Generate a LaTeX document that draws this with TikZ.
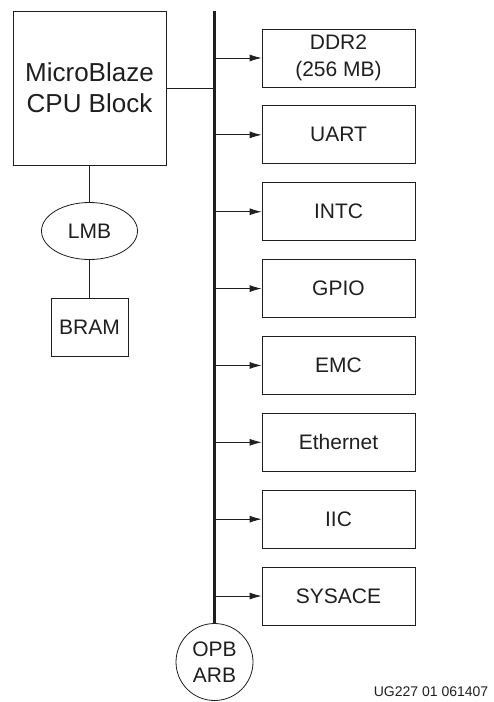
\documentclass[tikz,border=0pt]{standalone}
\usepackage{fontspec}
\setmainfont{Liberation Sans}
\usetikzlibrary{shapes.geometric,arrows.meta}

\begin{document}
\begin{tikzpicture}[x=1pt, y=-1pt, line width=0.8pt, color=black!88,
      every node/.style={font=\fontsize{21}{27}\selectfont},
      block/.style={draw, rectangle, inner sep=0pt, align=center},
      slave/.style={block, minimum width=153pt, minimum height=58pt},
      bus/.style={line width=3.5pt},
      link/.style={-{Latex[length=12pt,width=7pt]}}]

      \useasboundingbox (0,0) rectangle (494,702);

      \node[block, minimum width=153pt, minimum height=154pt, font=\fontsize{26}{31}\selectfont] (cpu) at (89.5,88) {MicroBlaze\\CPU Block};
      \node[draw, ellipse, minimum width=96pt, minimum height=57pt, inner sep=0pt] (lmb) at (89.5,231) {LMB};
      \node[block, minimum width=77pt, minimum height=58pt] (bram) at (89.5,327) {BRAM};
      \node[draw, circle, minimum size=77pt, inner sep=0pt, align=center, font=\fontsize{21}{26}\selectfont] (opb) at (214.5,662) {OPB\\ARB};
      \coordinate (bustop) at (214.5,11);

      \draw[bus] (bustop) -- (opb.north);
      \draw (cpu) -- (lmb) -- (bram);
      \draw (cpu.east) -- (bustop |- cpu.east);

      \foreach \name/\txt [count=\i from 0] in {ddr/{DDR2\\(256 MB)}, uart/UART, intc/INTC, gpio/GPIO, emc/EMC, enet/Ethernet, iic/IIC, sysace/SYSACE}{
        \node[slave] (\name) at (338.5,{58+76.86*\i}) {\txt};
        \draw[link] (bustop |- \name.west) -- (\name.west);
      }

      \node[anchor=east, font=\fontsize{14}{16}\selectfont] (fig) at (492,692) {UG227 01 061407};
    \end{tikzpicture}
\end{document}
